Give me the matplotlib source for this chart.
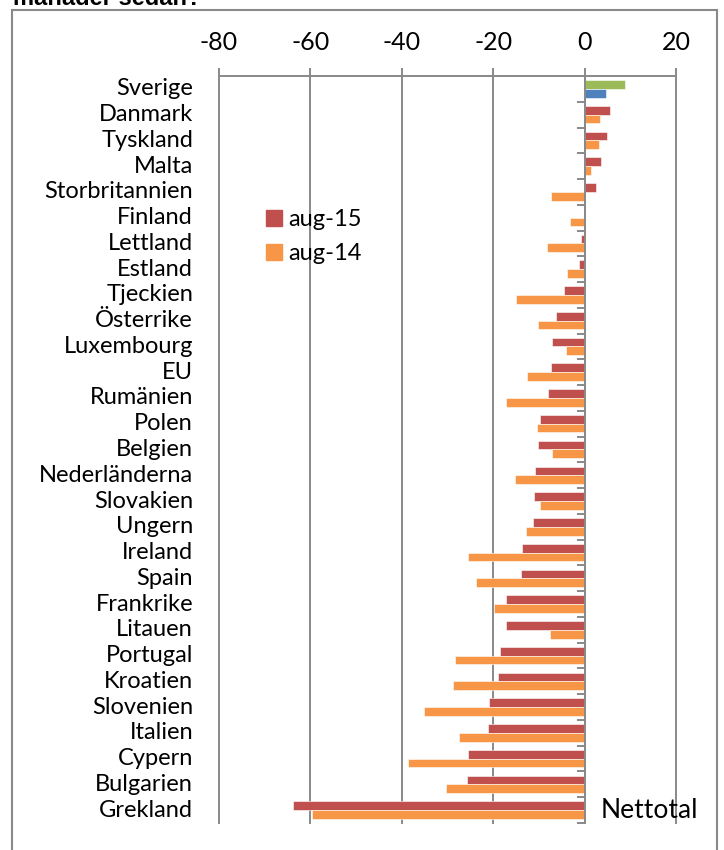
import numpy as np
import matplotlib
matplotlib.use("Agg")
import matplotlib.pyplot as plt
from matplotlib.patches import Patch, Rectangle
from matplotlib.transforms import blended_transform_factory

plt.rcParams['font.family'] = ['Lato', 'DejaVu Sans']

countries = ['Sverige', 'Danmark', 'Tyskland', 'Malta', 'Storbritannien', 'Finland',
             'Lettland', 'Estland', 'Tjeckien', 'Österrike', 'Luxembourg', 'EU',
             'Rumänien', 'Polen', 'Belgien', 'Nederländerna', 'Slovakien', 'Ungern',
             'Ireland', 'Spain', 'Frankrike', 'Litauen', 'Portugal', 'Kroatien',
             'Slovenien', 'Italien', 'Cypern', 'Bulgarien', 'Grekland']
aug15 = [8.8, 5.6, 4.9, 3.7, 2.5, -0.1, -0.7, -1.3, -4.4, -6.2, -7.1, -7.4,
         -8.0, -9.7, -10.2, -10.8, -11.0, -11.3, -13.6, -13.9, -17.1, -17.2,
         -18.4, -18.9, -20.8, -21.2, -25.5, -25.7, -63.8]
aug14 = [4.6, 3.3, 3.1, 1.4, -7.4, -3.1, -8.2, -3.9, -15.0, -10.1, -4.0, -12.5,
         -17.1, -10.5, -7.1, -15.1, -9.7, -12.9, -25.5, -23.7, -19.7, -7.6,
         -28.3, -28.7, -35.0, -27.5, -38.7, -30.4, -59.6]
xticks = [-80, -60, -40, -20, 0, 20]

RED = '#C0504D'
ORANGE = '#F79646'
GREEN = '#9BBB59'
BLUE = '#4F81BD'
GRAY = '#898989'

fig = plt.figure(figsize=(7.24, 8.5), dpi=100)
ax = fig.add_axes([218.7 / 724, 27 / 850, 457.3 / 724, 747 / 850])

n = len(countries)
y = np.arange(n)
h = 0.34
# Sverige gets its own colours
c15 = [GREEN if c == 'Sverige' else RED for c in countries]
c14 = [BLUE if c == 'Sverige' else ORANGE for c in countries]
ax.barh(y - h / 2, aug15, height=h, color=c15, edgecolor='#ffffff', linewidth=0.4, zorder=2)
ax.barh(y + h / 2, aug14, height=h, color=c14, edgecolor='#ffffff', linewidth=0.4, zorder=2)

ax.set_xlim(-80, 20)
ax.set_ylim(n - 0.5, -0.5)

# vertical gridlines
for v in xticks:
    ax.axvline(v, color=GRAY, lw=1.4, zorder=1, clip_on=False)

ax.xaxis.tick_top()
ax.set_xticks(xticks)
ax.set_xticklabels([str(v) for v in xticks])
ax.tick_params(axis='x', direction='out', length=6, width=1.4, color=GRAY,
               labelsize=18, pad=10)

ax.spines['left'].set_position(('data', 0))
ax.spines['left'].set_color(GRAY)
ax.spines['left'].set_linewidth(1.4)
ax.spines['left'].set_zorder(3)
ax.set_yticks(np.arange(-0.5, n, 1))
ax.tick_params(axis='y', direction='out', length=6, width=1.4, color=GRAY, labelleft=False)

ax.spines['top'].set_color(GRAY)
ax.spines['top'].set_linewidth(1.4)
ax.spines['right'].set_visible(False)
ax.spines['bottom'].set_visible(False)

trans = blended_transform_factory(ax.transAxes, ax.transData)
for i, c in enumerate(countries):
    ax.text(-0.056, i, c, transform=trans, ha='right', va='center', fontsize=17)

ax.text(3.5, n - 1, 'Nettotal', ha='left', va='center', fontsize=19, zorder=4)

handles = [Patch(color=RED, label='aug-15'), Patch(color=ORANGE, label='aug-14')]
fig.legend(handles=handles, loc='upper left', bbox_to_anchor=(252 / 724, 1 - 195 / 850),
           frameon=False, fontsize=17, handlelength=0.65, handleheight=0.65,
           handletextpad=0.3, labelspacing=0.55, borderaxespad=0.2)

# chart area border
fig.patches.append(Rectangle((12 / 724, -0.02), 705 / 724, 1.02 - 10 / 850,
                             transform=fig.transFigure, fill=False,
                             edgecolor=GRAY, lw=1.5))

fig.text(13 / 724, 1 - 5 / 850, 'månader sedan?', ha='left', va='baseline',
         fontsize=17, fontweight='bold', family='Liberation Sans')

fig.savefig('out.png', dpi=100)
